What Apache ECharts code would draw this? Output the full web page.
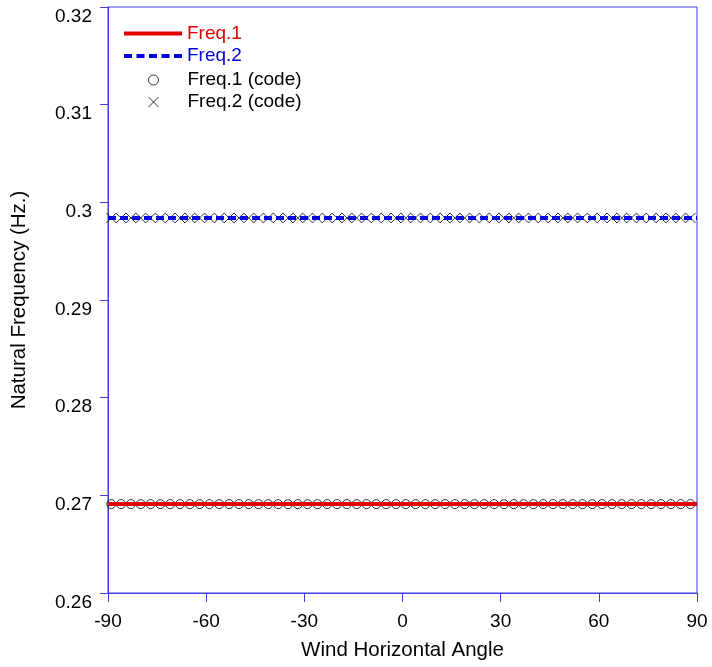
<!DOCTYPE html>
<html>
<head>
<meta charset="utf-8">
<script src="https://cdn.jsdelivr.net/npm/echarts@6/dist/echarts.min.js"></script>
<style>
  html, body { margin: 0; padding: 0; background: #fff; }
  #main { width: 712px; height: 667px; }
</style>
</head>
<body>
<div id="main"></div>
<script>
// 数据
var lineAngles = [-90, 90];
var freq1Line = [0.2691, 0.2691];
var freq2Line = [0.2984, 0.2984];

var codeAngles = [-89, -86, -83, -80, -77, -74, -71, -68, -65, -62,
                  -59, -56, -53, -50, -47, -44, -41, -38, -35, -32,
                  -29, -26, -23, -20, -17, -14, -11, -8, -5, -2,
                  1, 4, 7, 10, 13, 16, 19, 22, 25, 28,
                  31, 34, 37, 40, 43, 46, 49, 52, 55, 58,
                  61, 64, 67, 70, 73, 76, 79, 82, 85, 88];
var freq1Code = [0.2691, 0.2691, 0.2691, 0.2691, 0.2691, 0.2691, 0.2691, 0.2691, 0.2691, 0.2691,
                 0.2691, 0.2691, 0.2691, 0.2691, 0.2691, 0.2691, 0.2691, 0.2691, 0.2691, 0.2691,
                 0.2691, 0.2691, 0.2691, 0.2691, 0.2691, 0.2691, 0.2691, 0.2691, 0.2691, 0.2691,
                 0.2691, 0.2691, 0.2691, 0.2691, 0.2691, 0.2691, 0.2691, 0.2691, 0.2691, 0.2691,
                 0.2691, 0.2691, 0.2691, 0.2691, 0.2691, 0.2691, 0.2691, 0.2691, 0.2691, 0.2691,
                 0.2691, 0.2691, 0.2691, 0.2691, 0.2691, 0.2691, 0.2691, 0.2691, 0.2691, 0.2691];
var freq2Code = [0.2984, 0.2984, 0.2984, 0.2984, 0.2984, 0.2984, 0.2984, 0.2984, 0.2984, 0.2984,
                 0.2984, 0.2984, 0.2984, 0.2984, 0.2984, 0.2984, 0.2984, 0.2984, 0.2984, 0.2984,
                 0.2984, 0.2984, 0.2984, 0.2984, 0.2984, 0.2984, 0.2984, 0.2984, 0.2984, 0.2984,
                 0.2984, 0.2984, 0.2984, 0.2984, 0.2984, 0.2984, 0.2984, 0.2984, 0.2984, 0.2984,
                 0.2984, 0.2984, 0.2984, 0.2984, 0.2984, 0.2984, 0.2984, 0.2984, 0.2984, 0.2984,
                 0.2984, 0.2984, 0.2984, 0.2984, 0.2984, 0.2984, 0.2984, 0.2984, 0.2984, 0.2984];

var seriesNames = ['Freq.1', 'Freq.2', 'Freq.1 (code)', 'Freq.2 (code)'];

function pairs(xs, ys) {
    return xs.map(function (x, i) { return [x, ys[i]]; });
}

var axisBlue = '#3c3ce0';
var red = '#e00000';
var blue = '#0000e0';
var font = 'Liberation Sans, Arial, sans-serif';
var crossPath = 'path://M0,0L10,10M10,0L0,10';

var myChart = echarts.init(document.getElementById('main'));

var option = {
    animation: false,
    textStyle: { fontFamily: font },
    grid: {
        left: 108, right: 15, top: 7, bottom: 74,
        show: true, borderColor: axisBlue, borderWidth: 1
    },
    legend: [
        {
            left: 124, top: 24, padding: 0,
            orient: 'vertical',
            itemWidth: 58, itemHeight: 4, itemGap: 3.5, itemTextGap: 5,
            textStyle: { fontSize: 19, lineHeight: 19, fontFamily: font },
            data: [
                { name: seriesNames[0], icon: 'rect', textStyle: { color: red } },
                { name: seriesNames[1], icon: 'path://M0,0h8v4h-8zM12.5,0h8v4h-8zM25,0h8v4h-8zM37.5,0h8v4h-8zM50,0h8v4h-8z', textStyle: { color: blue } }
            ]
        },
        {
            left: 148, top: 70.5, padding: 0,
            orient: 'vertical',
            itemWidth: 58, itemHeight: 10, itemGap: 3, itemTextGap: 5,
            textStyle: { fontSize: 19, lineHeight: 19, color: '#000', fontFamily: font },
            itemStyle: { color: 'transparent', borderColor: '#000', borderWidth: 1 },
            data: [
                { name: seriesNames[2], icon: 'circle' },
                { name: seriesNames[3], icon: crossPath }
            ]
        }
    ],
    xAxis: {
        type: 'value',
        min: -90, max: 90, interval: 30,
        name: 'Wind Horizontal Angle',
        nameLocation: 'middle',
        nameGap: 47,
        nameTextStyle: { fontSize: 20.5, color: '#000', fontFamily: font },
        axisLine: { onZero: false, lineStyle: { color: axisBlue, width: 1 } },
        axisTick: { inside: false, length: 9, lineStyle: { color: axisBlue } },
        axisLabel: { fontSize: 19, color: '#000', margin: 19, fontFamily: font },
        splitLine: { show: false }
    },
    yAxis: {
        type: 'value',
        min: 0.26, max: 0.32, interval: 0.01,
        name: 'Natural Frequency (Hz.)',
        nameLocation: 'middle',
        nameGap: 78,
        nameTextStyle: { fontSize: 20.5, color: '#000', fontFamily: font },
        axisLine: { onZero: false, lineStyle: { color: axisBlue, width: 1 } },
        axisTick: { inside: false, length: 8, lineStyle: { color: axisBlue } },
        axisLabel: { fontSize: 19, color: '#000', margin: 16, verticalAlign: 'top', lineHeight: 19, fontFamily: font },
        splitLine: { show: false }
    },
    series: [
        {
            name: seriesNames[2],
            type: 'scatter',
            symbol: 'circle',
            symbolSize: 9,
            itemStyle: { color: 'transparent', borderColor: '#000', borderWidth: 1 },
            data: pairs(codeAngles, freq1Code),
            z: 2
        },
        {
            name: seriesNames[3],
            type: 'scatter',
            symbol: crossPath,
            symbolSize: 10,
            itemStyle: { color: 'transparent', borderColor: '#000', borderWidth: 1 },
            data: pairs(codeAngles, freq2Code),
            z: 2
        },
        {
            name: seriesNames[0],
            type: 'line',
            showSymbol: false,
            symbol: 'none',
            lineStyle: { color: red, width: 4 },
            itemStyle: { color: red },
            data: pairs(lineAngles, freq1Line),
            z: 3
        },
        {
            name: seriesNames[1],
            type: 'line',
            showSymbol: false,
            symbol: 'none',
            lineStyle: { color: blue, width: 4, type: [8, 4] },
            itemStyle: { color: blue },
            data: pairs(lineAngles, freq2Line),
            z: 3
        }
    ]
};

myChart.setOption(option);
</script>
</body>
</html>
